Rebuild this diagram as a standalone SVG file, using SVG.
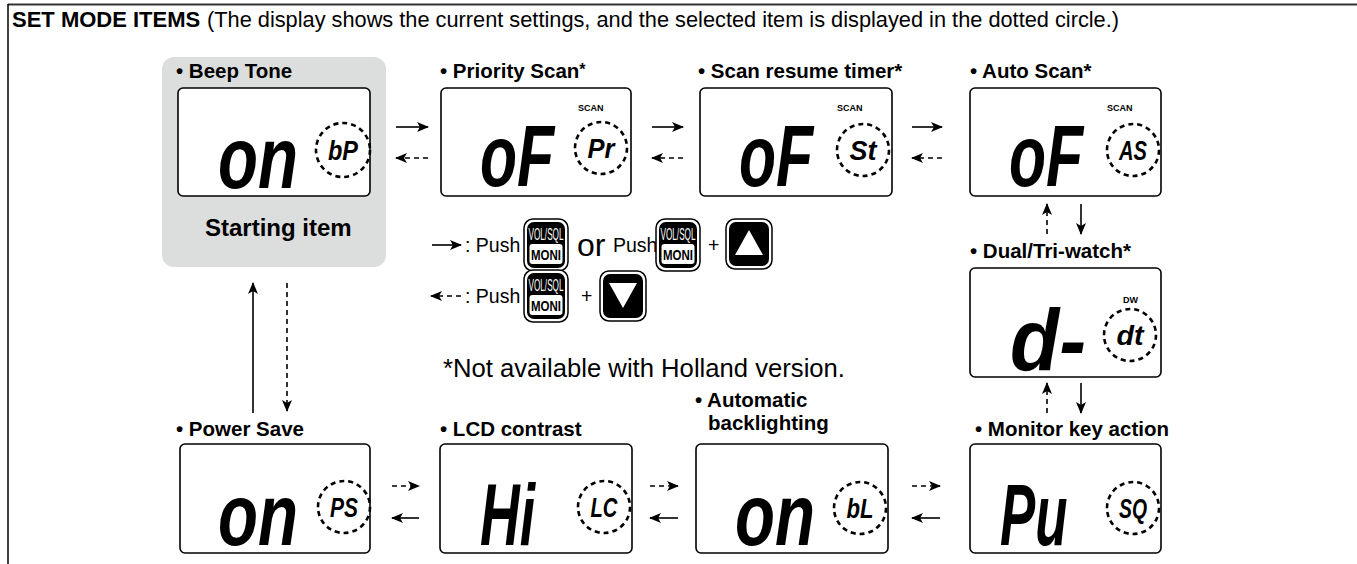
<svg xmlns="http://www.w3.org/2000/svg" width="1357" height="564" viewBox="0 0 1357 564">
<style>
text{font-family:"Liberation Sans",Arial,Helvetica,sans-serif;fill:#000}
.ttl{font-size:22px;font-weight:bold}
.sub{font-size:21.8px}
.lbl{font-size:20.5px;font-weight:bold}
.big{font-size:24px;font-weight:bold}
.leg{font-size:19.5px}
.note{font-size:25px}
.lcd{font-size:88px;font-weight:bold;font-style:italic}
.code{font-size:27px;font-weight:bold;font-style:italic}
.tiny{font-size:9px;font-weight:bold}
.box{fill:#fff;stroke:#000;stroke-width:1.6}
.dot{fill:none;stroke:#000;stroke-width:2.6;stroke-dasharray:5 4}
.ln{fill:none;stroke:#000;stroke-width:1.6}
.dl{fill:none;stroke:#000;stroke-width:1.6;stroke-dasharray:5 4}
</style>
<defs>
<marker id="ah" markerUnits="userSpaceOnUse" markerWidth="12" markerHeight="10" refX="11" refY="5" orient="auto">
<path d="M0,0 L12,5 L0,10 L3,5 Z" fill="#000"/>
</marker>
<g id="moni">
<rect x="0" y="0" width="44" height="52" rx="9" fill="#fff" stroke="#000" stroke-width="1.5"/>
<rect x="3" y="3" width="38" height="46" rx="7" fill="#000"/>
<text x="22" y="21" text-anchor="middle" style="font-size:17px;fill:#fff" textLength="35" lengthAdjust="spacingAndGlyphs">VOL/SQL</text>
<rect x="5.5" y="25" width="33" height="20" rx="3" fill="#fff"/>
<text x="22" y="41" text-anchor="middle" style="font-size:15px;font-weight:bold" textLength="30" lengthAdjust="spacingAndGlyphs">MONI</text>
</g>
<g id="keybox">
<rect x="0" y="0" width="46" height="50" rx="9" fill="#fff" stroke="#000" stroke-width="1.5"/>
<rect x="3" y="3" width="40" height="44" rx="7" fill="#000"/>
</g>
</defs>
<rect width="1357" height="564" fill="#fff"/>
<g id="frame">
<line x1="8" y1="4.5" x2="1357" y2="4.5" stroke="#333" stroke-width="2"/>
<line x1="8" y1="4" x2="8" y2="564" stroke="#000" stroke-width="1.5"/>
</g>
<g id="title">
<text x="12" y="27" class="ttl">SET MODE ITEMS</text>
<text x="207" y="27" class="sub" textLength="912" lengthAdjust="spacingAndGlyphs">(The display shows the current settings, and the selected item is displayed in the dotted circle.)</text>
</g>
<g id="beep-tone">
<rect x="162" y="57" width="224" height="210" rx="12" fill="#dcdddd"/>
<text x="176" y="78" class="lbl">• Beep Tone</text>
<rect x="178" y="88" width="192" height="108" rx="5" class="box"/>
<text class="lcd" transform="translate(218 188) scale(0.744 1)">on</text>
<circle cx="343" cy="150" r="27" class="dot"/>
<text x="343" y="160" class="code" text-anchor="middle" textLength="30" lengthAdjust="spacingAndGlyphs">bP</text>
<text x="205" y="236" class="big">Starting item</text>
</g>
<g id="priority-scan">
<text x="440" y="78" class="lbl">• Priority Scan<tspan style="font-size:16px" dy="-3">*</tspan></text>
<rect x="441" y="88" width="190" height="108" rx="5" class="box"/>
<text class="lcd" transform="translate(480 186) scale(0.69 1)">oF</text>
<text x="578" y="111" class="tiny">SCAN</text>
<circle cx="601" cy="148" r="26" class="dot"/>
<text x="601" y="158" class="code" text-anchor="middle" textLength="27" lengthAdjust="spacingAndGlyphs">Pr</text>
</g>
<g id="scan-resume-timer">
<text x="698" y="78" class="lbl">• Scan resume timer*</text>
<rect x="700" y="88" width="192" height="108" rx="5" class="box"/>
<text class="lcd" transform="translate(739 186) scale(0.69 1)">oF</text>
<text x="837" y="111" class="tiny">SCAN</text>
<circle cx="863" cy="150" r="26" class="dot"/>
<text x="863" y="160" class="code" text-anchor="middle" textLength="27" lengthAdjust="spacingAndGlyphs">St</text>
</g>
<g id="auto-scan">
<text x="970" y="78" class="lbl">• Auto Scan*</text>
<rect x="970" y="88" width="191" height="108" rx="5" class="box"/>
<text class="lcd" transform="translate(1009 186) scale(0.69 1)">oF</text>
<text x="1107" y="111" class="tiny">SCAN</text>
<circle cx="1133" cy="150" r="26" class="dot"/>
<text x="1133" y="160" class="code" text-anchor="middle" textLength="28" lengthAdjust="spacingAndGlyphs">AS</text>
</g>
<g id="dual-tri-watch">
<text x="970" y="258" class="lbl">• Dual/Tri-watch*</text>
<rect x="970" y="268" width="191" height="109" rx="5" class="box"/>
<text class="lcd" transform="translate(1010 370) scale(0.915 1)">d-</text>
<text x="1123" y="303" class="tiny">DW</text>
<circle cx="1130" cy="335" r="26" class="dot"/>
<text x="1130" y="345" class="code" text-anchor="middle" textLength="27" lengthAdjust="spacingAndGlyphs">dt</text>
</g>
<g id="monitor-key-action">
<text x="975" y="436" class="lbl">• Monitor key action</text>
<rect x="970" y="444" width="191" height="109" rx="5" class="box"/>
<text class="lcd" transform="translate(1000 545) scale(0.6 1)">Pu</text>
<circle cx="1133" cy="508" r="26" class="dot"/>
<text x="1133" y="518" class="code" text-anchor="middle" textLength="28" lengthAdjust="spacingAndGlyphs">SQ</text>
</g>
<g id="automatic-backlighting">
<text x="695" y="407" class="lbl">• Automatic</text>
<text x="708" y="430" class="lbl">backlighting</text>
<rect x="696" y="444" width="192" height="109" rx="5" class="box"/>
<text class="lcd" transform="translate(735 545) scale(0.744 1)">on</text>
<circle cx="860" cy="508" r="26" class="dot"/>
<text x="860" y="518" class="code" text-anchor="middle" textLength="27" lengthAdjust="spacingAndGlyphs">bL</text>
</g>
<g id="lcd-contrast">
<text x="440" y="436" class="lbl">• LCD contrast</text>
<rect x="440" y="444" width="192" height="109" rx="5" class="box"/>
<text class="lcd" transform="translate(480 545) scale(0.625 1)">Hi</text>
<circle cx="604" cy="507" r="26" class="dot"/>
<text x="604" y="517" class="code" text-anchor="middle" textLength="27" lengthAdjust="spacingAndGlyphs">LC</text>
</g>
<g id="power-save">
<text x="176" y="436" class="lbl">• Power Save</text>
<rect x="180" y="444" width="190" height="109" rx="5" class="box"/>
<text class="lcd" transform="translate(218 545) scale(0.744 1)">on</text>
<circle cx="344" cy="507" r="26" class="dot"/>
<text x="344" y="517" class="code" text-anchor="middle" textLength="28" lengthAdjust="spacingAndGlyphs">PS</text>
</g>
<g id="legend">
<line x1="432" y1="245" x2="461" y2="245" class="ln" marker-end="url(#ah)"/>
<text x="465" y="252" class="leg">: Push</text>
<use href="#moni" x="524" y="219"/>
<text x="577" y="256" style="font-size:32px">or</text>
<text x="613" y="252" class="leg">Push</text>
<use href="#moni" x="656" y="219"/>
<text x="708" y="252" class="leg">+</text>
<use href="#keybox" x="726" y="219"/>
<path d="M749,230 L763,255 L735,255 Z" fill="#fff"/>
<line x1="461" y1="296" x2="431" y2="296" class="dl" marker-end="url(#ah)"/>
<text x="465" y="303" class="leg">: Push</text>
<use href="#moni" x="524" y="270"/>
<text x="581" y="303" class="leg">+</text>
<use href="#keybox" x="600" y="271"/>
<path d="M609,283 L637,283 L623,308 Z" fill="#fff"/>
<text x="443" y="377" class="note" textLength="402" lengthAdjust="spacingAndGlyphs">*Not available with Holland version.</text>
</g>
<g id="connectors">
<line x1="396" y1="127" x2="428" y2="127" class="ln" marker-end="url(#ah)"/>
<line x1="428" y1="158" x2="396" y2="158" class="dl" marker-end="url(#ah)"/>
<line x1="652" y1="127" x2="683" y2="127" class="ln" marker-end="url(#ah)"/>
<line x1="683" y1="158" x2="652" y2="158" class="dl" marker-end="url(#ah)"/>
<line x1="912" y1="127" x2="942" y2="127" class="ln" marker-end="url(#ah)"/>
<line x1="942" y1="158" x2="912" y2="158" class="dl" marker-end="url(#ah)"/>
<line x1="1047" y1="234" x2="1047" y2="204" class="dl" marker-end="url(#ah)"/>
<line x1="1081" y1="204" x2="1081" y2="234" class="ln" marker-end="url(#ah)"/>
<line x1="1047" y1="413" x2="1047" y2="383" class="dl" marker-end="url(#ah)"/>
<line x1="1081" y1="383" x2="1081" y2="413" class="ln" marker-end="url(#ah)"/>
<line x1="912" y1="486" x2="940" y2="486" class="dl" marker-end="url(#ah)"/>
<line x1="940" y1="518" x2="912" y2="518" class="ln" marker-end="url(#ah)"/>
<line x1="650" y1="486" x2="678" y2="486" class="dl" marker-end="url(#ah)"/>
<line x1="678" y1="518" x2="650" y2="518" class="ln" marker-end="url(#ah)"/>
<line x1="392" y1="486" x2="419" y2="486" class="dl" marker-end="url(#ah)"/>
<line x1="419" y1="518" x2="392" y2="518" class="ln" marker-end="url(#ah)"/>
<line x1="253" y1="413" x2="253" y2="283" class="ln" marker-end="url(#ah)"/>
<line x1="287" y1="283" x2="287" y2="411" class="dl" marker-end="url(#ah)"/>
</g>
</svg>
